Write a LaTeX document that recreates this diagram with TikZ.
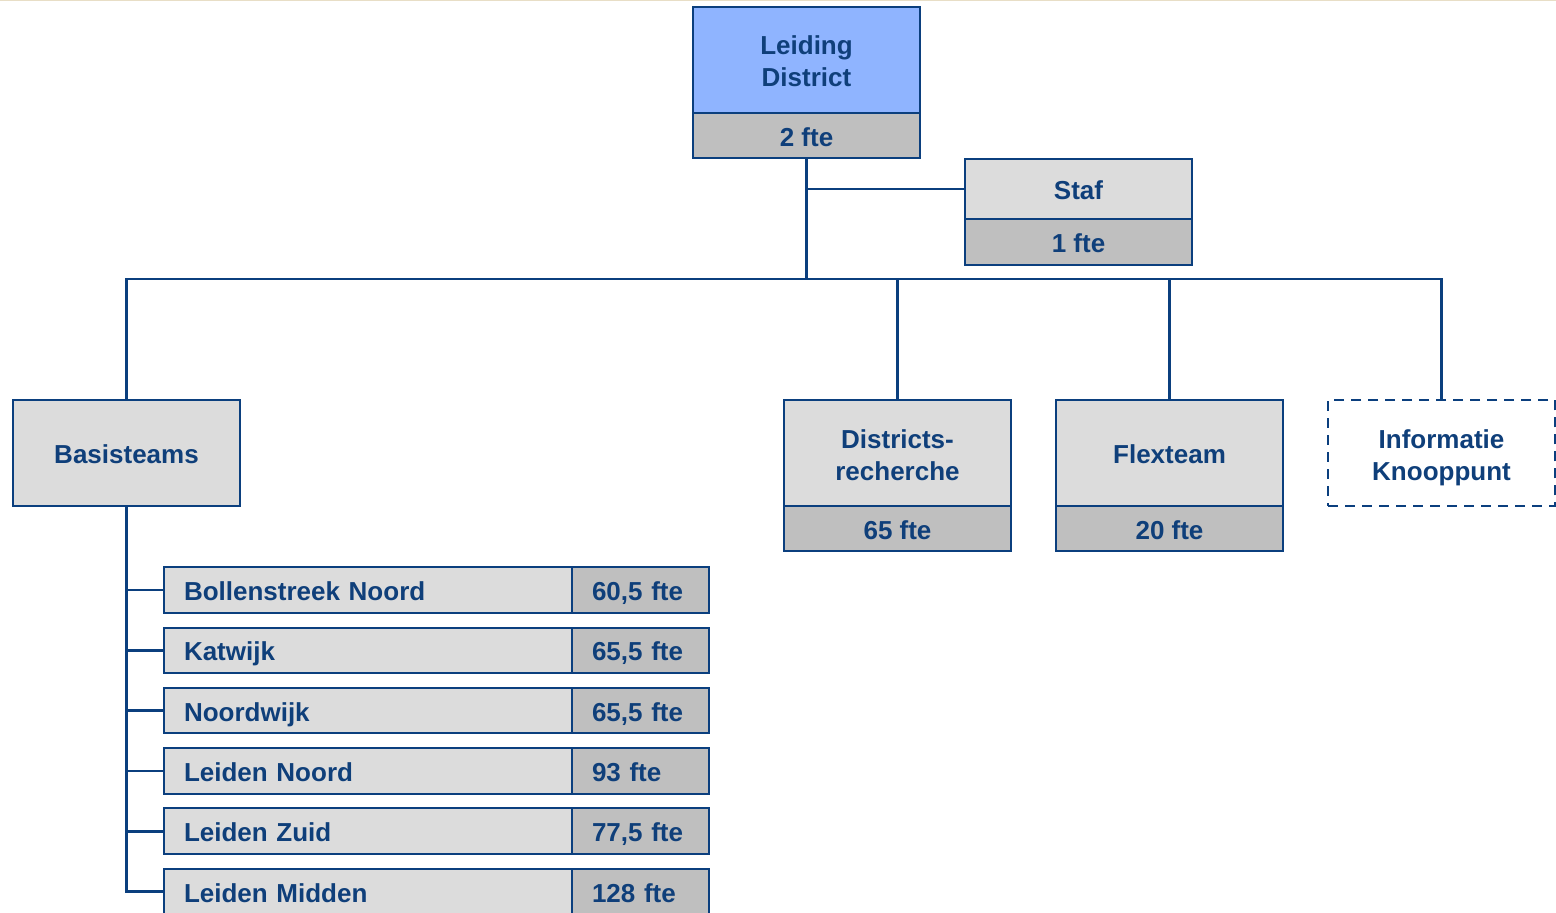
\documentclass[tikz,border=0pt]{standalone}
\usepackage{fontspec}
\setmainfont{Liberation Sans}
\definecolor{navy}{HTML}{0B3F7E}
\definecolor{txt}{HTML}{0F3F7A}
\definecolor{topblue}{HTML}{8FB4FF}
\definecolor{lgray}{HTML}{DCDCDC}
\definecolor{dgray}{HTML}{BFBFBF}
\definecolor{beige}{HTML}{E8DEC6}
\newcommand\mytopstrut{\rule{0pt}{13.5pt}}
\newcommand\mybotstrut{\rule[-3pt]{0pt}{3pt}}
\newcommand\firstline{\rule{0pt}{14pt}}
\begin{document}
\begin{tikzpicture}[x=0.5pt,y=-0.5pt,
  box/.style={draw=navy,line width=1pt,fill=lgray,text=txt,font=\fontsize{13}{16}\selectfont\bfseries,align=center,inner sep=0pt,minimum width=113.5pt,
    execute at begin node=\mytopstrut, execute at end node=\mybotstrut},
  upper/.style={box,minimum height=53pt},
  lower/.style={box,fill=dgray,minimum height=22.5pt},
  rowname/.style={box,minimum width=204pt,minimum height=22.75pt,text width=184pt,align=left},
  rowfte/.style={box,fill=dgray,minimum width=68.5pt,minimum height=22.75pt,text width=48.5pt,align=left},
  conn/.style={draw=navy,line width=1.4pt}]
\path[fill=white] (0,0) rectangle (1556,913);
\useasboundingbox (0,0) rectangle (1556,913);
\draw[beige,line width=0.7pt] (0,0.6) -- (1556,0.6);

% top
\node[upper,fill=topblue] (lead) at (806.5,60) {\firstline Leiding\\District};
\node[lower] (lead2) at (806.5,135.75) {2 fte};
\node[box,minimum height=30.25pt] (staf) at (1078.5,189) {Staf};
\node[lower,minimum height=23pt] (staf2) at (1078.5,242) {1 fte};

% second level
\node[upper] (basis) at (126.5,453.5) {Basisteams};
\node[upper] (dr) at (897.5,453.5) {\firstline Districts-\\recherche};
\node[lower] (dr2) at (897.5,528.75) {65 fte};
\node[upper] (flex) at (1169.5,453.5) {Flexteam};
\node[lower] (flex2) at (1169.5,528.75) {20 fte};
\node[upper,fill=white,dashed,dash pattern=on 5pt off 3.5pt] (info) at (1441.5,453.5) {\firstline Informatie\\Knooppunt};

% rows
\node[rowname] (r1) at (368,590) {Bollenstreek Noord};
\node[rowfte] (f1) at (640.5,590) {60,5 fte};
\node[rowname] (r2) at (368,650.3) {Katwijk};
\node[rowfte] (f2) at (640.5,650.3) {65,5 fte};
\node[rowname] (r3) at (368,710.6) {Noordwijk};
\node[rowfte] (f3) at (640.5,710.6) {65,5 fte};
\node[rowname] (r4) at (368,770.9) {Leiden Noord};
\node[rowfte] (f4) at (640.5,770.9) {93 fte};
\node[rowname] (r5) at (368,831.2) {Leiden Zuid};
\node[rowfte] (f5) at (640.5,831.2) {77,5 fte};
\node[rowname] (r6) at (368,891.5) {Leiden Midden};
\node[rowfte] (f6) at (640.5,891.5) {128 fte};

% connectors
\coordinate (bus) at (806.5,279);
\draw[conn] (lead2.south) |- (staf.west);
\draw[conn] (lead2.south) -- (lead2.south |- bus);
\draw[conn] (basis.north) -- (basis.north |- bus) -- (info.north |- bus) -- (info.north);
\draw[conn] (dr.north) -- (dr.north |- bus);
\draw[conn] (flex.north) -- (flex.north |- bus);
\foreach \r in {r1,r2,r3,r4,r5,r6}
  \draw[conn] (basis.south) |- (\r.west);
\end{tikzpicture}
\end{document}
